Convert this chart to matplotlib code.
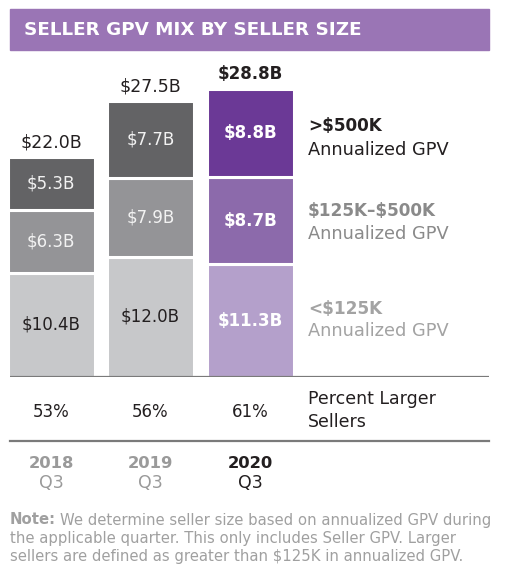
import matplotlib
matplotlib.use("Agg")
import matplotlib.pyplot as plt
from matplotlib.patches import Rectangle
from matplotlib.transforms import blended_transform_factory

# data
years = ["2018", "2019", "2020"]
quarters = ["Q3", "Q3", "Q3"]
small_gpv = [10.4, 12.0, 11.3]     # <$125K
mid_gpv = [6.3, 7.9, 8.7]          # $125K-$500K
large_gpv = [5.3, 7.7, 8.8]        # >$500K
totals = [22.0, 27.5, 28.8]
pct_larger = [53, 56, 61]

W, H = 521, 569
gray_cols = ["#c7c8ca", "#949497", "#636365"]
purple_cols = ["#b4a0cb", "#8c6aab", "#6b3996"]

def fx(px):
    return px / W

def fy(py):
    return 1 - py / H

fig = plt.figure(figsize=(W / 100, H / 100), dpi=100)
plt.rcParams["font.family"] = ["DejaVu Sans"]

# title band
fig.patches.append(Rectangle((fx(10), fy(50)), fx(479), 41 / H,
                             transform=fig.transFigure, color="#9a75b5", zorder=0))
fig.text(fx(24), fy(30), "SELLER GPV MIX BY SELLER SIZE", color="white",
         fontsize=13.2, fontweight="bold", va="center", ha="left")

ax = fig.add_axes([fx(10), fy(377), fx(479), 300 / H])
ax.set_xlim(-0.412, 4.40)
ax.set_ylim(0, 30)
ax.axis("off")

x = list(range(len(years)))
width = 0.874
for i in x:
    cols = purple_cols if i == 2 else gray_cols
    segs = [small_gpv[i], mid_gpv[i], large_gpv[i]]
    bottom = 0
    for k, v in enumerate(segs):
        ax.bar(i, v, width=width, bottom=bottom, color=cols[k],
               edgecolor="white", linewidth=2.2)
        if i == 2:
            tc, fw = "white", "bold"
        else:
            tc, fw = ("#231f20" if k == 0 else "#f2f2f2"), "normal"
        ax.text(i, bottom + v / 2, f"${v:.1f}B", ha="center", va="center",
                color=tc, fontsize=12, fontweight=fw, parse_math=False)
        bottom += v
    bold = i == 2
    ax.text(i, totals[i] + 1.5, f"${totals[i]:.1f}B", ha="center", va="center",
            color="#231f20", fontsize=12 if bold else 12.5,
            fontweight="bold" if bold else "normal", parse_math=False)

ax.axhline(0, color="#7a7a7a", lw=1.6, zorder=5)

# legend labels at the right
legend_items = [(">$500K", "#231f20", 126, 150),
                ("$125K\u2013$500K", "#8a8a8a", 211, 234),
                ("<$125K", "#a3a3a3", 309, 331)]
for lab, col, y1, y2 in legend_items:
    fig.text(fx(308), fy(y1), lab, color=col, fontsize=12.2, fontweight="bold",
             va="center", ha="left", parse_math=False)
    fig.text(fx(308), fy(y2), "Annualized GPV", color=col, fontsize=12.8,
             va="center", ha="left")

# percent row
trans = blended_transform_factory(ax.transData, fig.transFigure)
for i in x:
    ax.text(i, fy(412), f"{pct_larger[i]}%", transform=trans, ha="center",
            va="center", fontsize=12, color="#231f20")
fig.text(fx(308), fy(399), "Percent Larger", fontsize=12.5, color="#231f20",
         va="center", ha="left")
fig.text(fx(308), fy(422), "Sellers", fontsize=12.5, color="#231f20",
         va="center", ha="left")

fig.add_artist(plt.Line2D([fx(10), fx(489)], [fy(441), fy(441)],
                          transform=fig.transFigure, color="#7a7a7a", lw=1.6))

# year labels
for i in x:
    col = "#231f20" if i == 2 else "#9a9a9a"
    ax.text(i, fy(463), years[i], transform=trans, ha="center", va="center",
            fontsize=11.8, fontweight="bold", color=col)
    ax.text(i, fy(483), quarters[i], transform=trans, ha="center", va="center",
            fontsize=12.5, color=col)

# note
note_lines = ["We determine seller size based on annualized GPV during",
              "the applicable quarter. This only includes Seller GPV. Larger",
              "sellers are defined as greater than $125K in annualized GPV."]
note_col = "#a0a0a0"
note_fs = 10.7
t = fig.text(fx(10), fy(520), "Note:", fontsize=note_fs, fontweight="bold",
             color=note_col, va="center", ha="left")
fig.canvas.draw()
bb = t.get_window_extent()
fig.text(bb.x1 / fig.dpi / fig.get_figwidth() + 0.008, fy(520), note_lines[0],
         fontsize=note_fs, color=note_col, va="center", ha="left", parse_math=False)
fig.text(fx(10), fy(538), note_lines[1], fontsize=note_fs, color=note_col,
         va="center", ha="left", parse_math=False)
fig.text(fx(10), fy(556), note_lines[2], fontsize=note_fs, color=note_col,
         va="center", ha="left", parse_math=False)

fig.savefig("out.png", dpi=100)
